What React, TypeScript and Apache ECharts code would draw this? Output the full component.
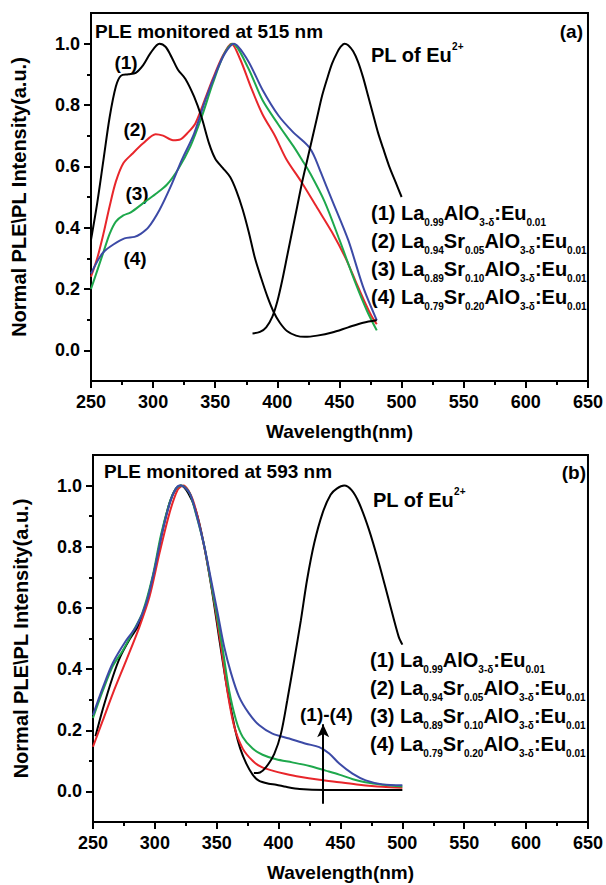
import React, { useEffect, useRef } from "react";
import * as echarts from "echarts";

// ---------- data: panel (a) ----------
const topPLE1: [number, number][] = [
  [250, 0.36], [255, 0.48], [260, 0.62], [265, 0.76], [270, 0.86], [274, 0.895], [280, 0.9], [286, 0.905],
  [292, 0.93], [298, 0.97], [305, 1.0], [310, 0.99], [315, 0.955], [320, 0.915], [326, 0.885], [333, 0.827],
  [339, 0.76], [345, 0.675], [350, 0.625], [356, 0.595], [362, 0.565], [367, 0.52], [372, 0.46], [377, 0.385],
  [382, 0.3], [387, 0.235], [392, 0.175], [397, 0.125], [402, 0.09], [408, 0.062], [415, 0.048], [422, 0.044],
  [432, 0.048], [444, 0.058], [457, 0.075], [469, 0.09], [480, 0.098],
];
const topPLE2: [number, number][] = [
  [250, 0.24], [255, 0.3], [260, 0.38], [265, 0.47], [270, 0.55], [276, 0.61], [283, 0.64], [292, 0.675],
  [302, 0.705], [308, 0.7], [316, 0.685], [322, 0.688], [328, 0.71], [334, 0.74], [340, 0.8], [348, 0.885],
  [356, 0.96], [363, 1.0], [370, 0.95], [379, 0.855], [388, 0.77], [398, 0.7], [407, 0.625], [420, 0.545],
  [432, 0.465], [444, 0.385], [455, 0.3], [463, 0.225], [470, 0.16], [476, 0.11], [480, 0.085],
];
const topPLE3: [number, number][] = [
  [250, 0.2], [255, 0.26], [260, 0.32], [265, 0.38], [270, 0.42], [276, 0.44], [282, 0.45], [292, 0.48],
  [302, 0.51], [311, 0.54], [320, 0.59], [330, 0.665], [339, 0.76], [348, 0.87], [357, 0.965], [364, 1.0],
  [376, 0.925], [388, 0.816], [401, 0.735], [413, 0.665], [420, 0.62], [426, 0.58], [438, 0.485], [450, 0.36],
  [463, 0.218], [472, 0.13], [480, 0.065],
];
const topPLE4: [number, number][] = [
  [250, 0.25], [255, 0.29], [260, 0.32], [268, 0.345], [277, 0.365], [285, 0.37], [290, 0.38], [296, 0.4],
  [305, 0.457], [314, 0.533], [323, 0.62], [333, 0.707], [342, 0.816], [351, 0.91], [358, 0.97], [365, 1.0],
  [376, 0.947], [388, 0.85], [401, 0.765], [413, 0.71], [420, 0.685], [426, 0.66], [430, 0.63], [435, 0.58],
  [444, 0.49], [457, 0.36], [469, 0.207], [480, 0.098],
];
const topPL: [number, number][] = [
  [380, 0.055], [386, 0.06], [391, 0.075], [396, 0.11], [400, 0.16], [404, 0.23], [408, 0.31], [412, 0.39],
  [416, 0.47], [420, 0.55], [424, 0.62], [428, 0.69], [432, 0.76], [436, 0.83], [440, 0.885], [444, 0.935],
  [448, 0.97], [451, 0.99], [454, 1.0], [457, 0.995], [461, 0.975], [465, 0.94], [469, 0.89], [473, 0.83],
  [477, 0.77], [481, 0.71], [485, 0.66], [490, 0.6], [495, 0.55], [500, 0.5],
];

// ---------- data: panel (b) ----------
const botPLE1: [number, number][] = [
  [252, 0.18], [258, 0.27], [266, 0.375], [272, 0.44], [280, 0.5], [287, 0.545], [293, 0.615], [300, 0.73],
  [306, 0.85], [312, 0.945], [317, 0.99], [321, 1.0], [327, 0.975], [333, 0.92], [339, 0.82], [346, 0.66],
  [352, 0.5], [357, 0.37], [361, 0.28], [365, 0.2], [369, 0.14], [374, 0.09], [379, 0.055], [384, 0.035],
  [392, 0.025], [398, 0.022], [406, 0.015], [417, 0.008], [438, 0.005], [500, 0.005],
];
const botPLE2: [number, number][] = [
  [250, 0.146], [258, 0.233], [266, 0.32], [277, 0.43], [287.6, 0.539], [295.7, 0.637], [303.8, 0.78],
  [311.8, 0.91], [318.5, 0.987], [323, 1.0], [330.6, 0.954], [338.7, 0.823], [346.8, 0.648], [353.5, 0.473],
  [358.9, 0.32], [364.2, 0.211], [371, 0.14], [379, 0.1], [386, 0.08], [395, 0.068], [405, 0.058],
  [417, 0.048], [433, 0.038], [449, 0.03], [465, 0.022], [484, 0.015], [500, 0.012],
];
const botPLE3: [number, number][] = [
  [250, 0.24], [258, 0.33], [266, 0.41], [274, 0.46], [282, 0.52], [290, 0.585], [298, 0.7], [305, 0.84],
  [312, 0.945], [317, 0.99], [321.5, 1.0], [328, 0.976], [333, 0.91], [340, 0.8], [345, 0.69], [350, 0.58],
  [355, 0.46], [360, 0.33], [365.6, 0.233], [371, 0.178], [379, 0.14], [387, 0.12], [398, 0.105],
  [411, 0.095], [425, 0.083], [438, 0.068], [449, 0.055], [460, 0.04], [470, 0.03], [484, 0.022], [500, 0.016],
];
const botPLE4: [number, number][] = [
  [250, 0.25], [258, 0.34], [266, 0.42], [277, 0.495], [285, 0.539], [293, 0.615], [299.7, 0.725],
  [306.5, 0.856], [313, 0.954], [318.5, 0.998], [321, 1.0], [328, 0.976], [333.3, 0.91], [340, 0.801],
  [345.4, 0.692], [350.8, 0.582], [356, 0.473], [361.6, 0.386], [368, 0.31], [376, 0.255], [384.4, 0.216],
  [395, 0.189], [408.6, 0.173], [422, 0.156], [432.8, 0.145], [440.9, 0.124], [449, 0.091], [459.7, 0.058],
  [470.4, 0.036], [484, 0.023], [500, 0.02],
];
const botPL: [number, number][] = [
  [380, 0.06], [385, 0.062], [390, 0.08], [396.5, 0.123], [401.9, 0.189], [407, 0.298], [412.6, 0.429],
  [418, 0.56], [423, 0.692], [428.8, 0.812], [435.5, 0.91], [442, 0.97], [447, 0.99], [453, 1.0],
  [459, 0.985], [465, 0.943], [473, 0.856], [481, 0.747], [489, 0.626], [497, 0.506], [500, 0.48],
];

// arrow "(1)-(4)" in panel (b), data coordinates
const arrowFrom: [number, number] = [436, -0.04];
const arrowTo: [number, number] = [436, 0.22];

// ---------- axes ticks ----------
const xMin = 250;
const xMax = 650;
const xStep = 50;
const yMin = -0.1;
const yMax = 1.1;
const yMajorTicks = [0, 0.2, 0.4, 0.6, 0.8, 1.0];
const yMinorTicks = [0.1, 0.3, 0.5, 0.7, 0.9];

// ---------- texts ----------
const xName = "Wavelength(nm)";
const yName = "Normal PLE\\PL Intensity(a.u.)";
const titleA = "PLE monitored at 515 nm";
const titleB = "PLE monitored at 593 nm";
const curveLabels = ["(1)", "(2)", "(3)", "(4)"];
const legendParts: [string, string][][] = [
  [["m", "(1) La"], ["s", "0.99"], ["m", "AlO"], ["s", "3-δ"], ["m", ":Eu"], ["s", "0.01"]],
  [["m", "(2) La"], ["s", "0.94"], ["m", "Sr"], ["s", "0.05"], ["m", "AlO"], ["s", "3-δ"], ["m", ":Eu"], ["s", "0.01"]],
  [["m", "(3) La"], ["s", "0.89"], ["m", "Sr"], ["s", "0.10"], ["m", "AlO"], ["s", "3-δ"], ["m", ":Eu"], ["s", "0.01"]],
  [["m", "(4) La"], ["s", "0.79"], ["m", "Sr"], ["s", "0.20"], ["m", "AlO"], ["s", "3-δ"], ["m", ":Eu"], ["s", "0.01"]],
];
const plParts: [string, string][] = [["m", "PL of Eu"], ["p", "2+"]];

const FONT = '"Liberation Sans", Arial, Helvetica, sans-serif';
const BLACK = "#000000";
const RED = "#e8262b";
const GREEN = "#1ea84c";
const BLUE = "#3c4aa6";

const richStyles = {
  m: { fontSize: 20, fontWeight: "bold", fontFamily: FONT, fill: BLACK, lineHeight: 28 },
  s: { fontSize: 10, fontWeight: "bold", fontFamily: FONT, fill: BLACK, lineHeight: 12, verticalAlign: "bottom" },
  p: { fontSize: 10, fontWeight: "bold", fontFamily: FONT, fill: BLACK, lineHeight: 12, verticalAlign: "top" },
};

function richText(parts: [string, string][]) {
  return parts.map(([k, t]) => `{${k}|${t}}`).join("");
}

function plainText(text: string, x: number, y: number, size: number, align = "left") {
  return {
    type: "text",
    x,
    y,
    silent: true,
    style: {
      text,
      fill: BLACK,
      font: `bold ${size}px ${FONT}`,
      align,
      verticalAlign: "middle",
    },
  };
}

function rich(parts: [string, string][], x: number, y: number) {
  return {
    type: "text",
    x,
    y,
    silent: true,
    style: {
      text: richText(parts),
      rich: richStyles,
      fill: BLACK,
      font: `bold 20px ${FONT}`,
      align: "left",
      verticalAlign: "middle",
    },
  };
}

const axisLineStyle = { color: BLACK, width: 2 };

function makeX(gridIndex: number) {
  return {
    type: "value",
    gridIndex,
    min: xMin,
    max: xMax,
    interval: xStep,
    axisLine: { show: true, onZero: false, lineStyle: axisLineStyle },
    axisTick: { show: true, inside: false, length: 7, lineStyle: axisLineStyle },
    minorTick: { show: true, splitNumber: 2, length: 4, lineStyle: axisLineStyle },
    splitLine: { show: false },
    minorSplitLine: { show: false },
    axisLabel: { color: BLACK, fontSize: 18, fontWeight: "bold", fontFamily: FONT, margin: 12 },
    name: xName,
    nameLocation: "middle",
    nameGap: 41,
    nameTextStyle: { color: BLACK, fontSize: 19, fontWeight: "bold", fontFamily: FONT },
  };
}

function makeYMajor(gridIndex: number) {
  return {
    type: "value",
    gridIndex,
    position: "left",
    min: yMin,
    max: yMax,
    axisLine: { show: true, onZero: false, lineStyle: axisLineStyle },
    axisTick: { show: true, inside: false, length: 7, customValues: yMajorTicks, lineStyle: axisLineStyle },
    axisLabel: {
      customValues: yMajorTicks,
      formatter: (v: number) => v.toFixed(1),
      color: BLACK,
      fontSize: 18,
      fontWeight: "bold",
      fontFamily: FONT,
      margin: 11,
    },
    splitLine: { show: false },
    name: yName,
    nameLocation: "middle",
    nameGap: 62,
    nameTextStyle: { color: BLACK, fontSize: 20, fontWeight: "bold", fontFamily: FONT },
  };
}

function makeYMinor(gridIndex: number) {
  return {
    type: "value",
    gridIndex,
    position: "left",
    offset: 0,
    min: yMin,
    max: yMax,
    axisLine: { show: false, onZero: false },
    axisTick: { show: true, inside: false, length: 4, customValues: yMinorTicks, lineStyle: axisLineStyle },
    axisLabel: { show: false },
    splitLine: { show: false },
  };
}

function line(data: [number, number][], color: string, xi: number, yi: number, extra: any = {}) {
  return {
    type: "line",
    xAxisIndex: xi,
    yAxisIndex: yi,
    data,
    showSymbol: false,
    symbol: "none",
    smooth: 0.3,
    lineStyle: { color, width: 2 },
    itemStyle: { color },
    emphasis: { disabled: true },
    ...extra,
  };
}

export default function App() {
  const ref = useRef<HTMLDivElement>(null);
  useEffect(() => {
    if (!ref.current) return;
    const chart = echarts.init(ref.current, null, { renderer: "svg" });
    const option: any = {
      animation: false,
      backgroundColor: "#ffffff",
      textStyle: { fontFamily: FONT },
      grid: [
        { left: 91, top: 13, width: 499, height: 368, show: true, borderColor: BLACK, borderWidth: 2, backgroundColor: "transparent" },
        { left: 93, top: 455, width: 496, height: 367, show: true, borderColor: BLACK, borderWidth: 2, backgroundColor: "transparent" },
      ],
      xAxis: [makeX(0), makeX(1)],
      yAxis: [makeYMajor(0), makeYMinor(0), makeYMajor(1), makeYMinor(1)],
      series: [
        line(topPLE2, RED, 0, 0),
        line(topPLE3, GREEN, 0, 0),
        line(topPLE4, BLUE, 0, 0),
        line(topPLE1, BLACK, 0, 0),
        line(topPL, BLACK, 0, 0),
        line(botPLE1, BLACK, 1, 2),
        line(botPLE2, RED, 1, 2),
        line(botPLE3, GREEN, 1, 2),
        line(botPLE4, BLUE, 1, 2),
        line(botPL, BLACK, 1, 2, {
          markLine: {
            silent: true,
            symbol: ["none", "arrow"],
            symbolSize: [9, 13],
            label: { show: false },
            lineStyle: { color: BLACK, width: 2, type: "solid" },
            data: [[{ coord: arrowFrom }, { coord: arrowTo }]],
          },
        }),
      ],
      graphic: [
        plainText(titleA, 95, 31, 19),
        plainText("(a)", 583, 31, 19, "right"),
        rich(plParts, 371, 55),
        ...legendParts.map((p, i) => rich(p, 371, 213 + i * 28)),
        plainText(curveLabels[0], 126, 62, 19, "center"),
        plainText(curveLabels[1], 135, 129, 19, "center"),
        plainText(curveLabels[2], 137, 193, 19, "center"),
        plainText(curveLabels[3], 135, 258, 19, "center"),
        plainText(titleB, 104, 471, 19),
        plainText("(b)", 586, 472, 19, "right"),
        rich(plParts, 373, 500),
        ...legendParts.map((p, i) => rich(p, 370, 660 + i * 28)),
        plainText(`${curveLabels[0]}-${curveLabels[3]}`, 300, 714, 19),
      ],
    };
    chart.setOption(option);
    return () => chart.dispose();
  }, []);
  return (
    <div
      ref={ref}
      style={{ position: "absolute", left: 0, top: 0, width: 606, height: 885, background: "#fff" }}
    />
  );
}
